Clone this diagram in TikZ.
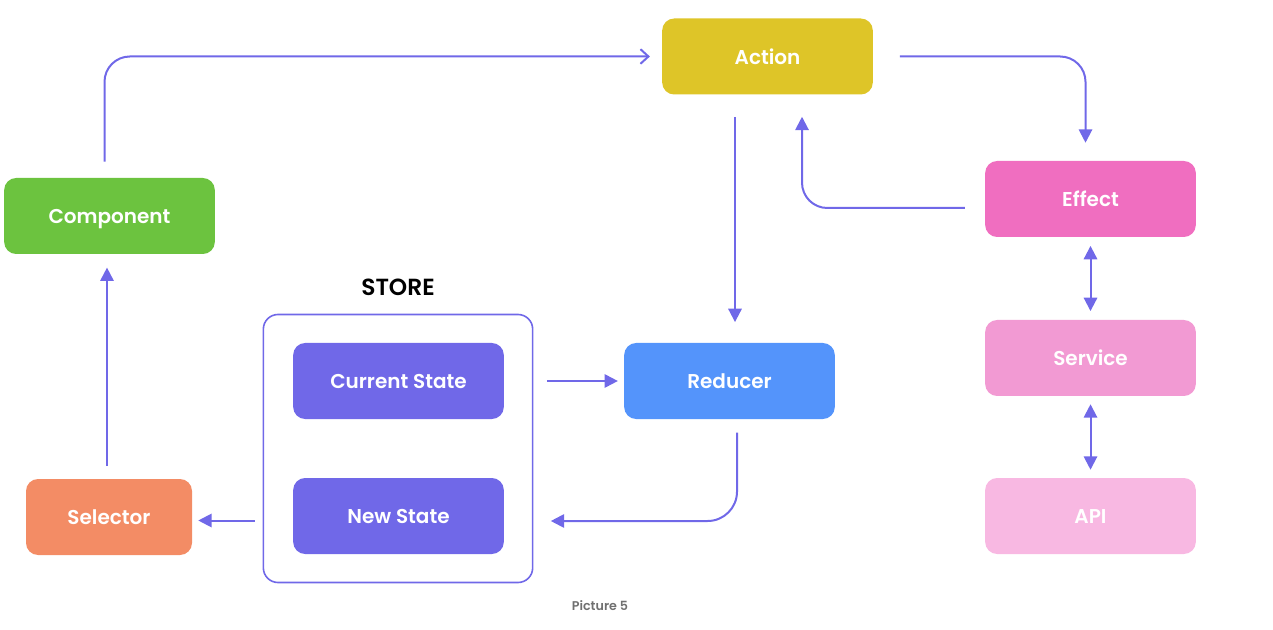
\documentclass[tikz,border=0pt]{standalone}
\usepackage{fontspec}
\setmainfont{Poppins}[BoldFont={Poppins SemiBold}]
\usetikzlibrary{arrows.meta,calc}
\definecolor{flow}{HTML}{7068E8}
\definecolor{cAction}{HTML}{DEC528}
\definecolor{cComponent}{HTML}{6CC33F}
\definecolor{cEffect}{HTML}{F06EC0}
\definecolor{cService}{HTML}{F29AD3}
\definecolor{cApi}{HTML}{F8B8E2}
\definecolor{cReducer}{HTML}{5494FB}
\definecolor{cState}{HTML}{7068E8}
\definecolor{cSelector}{HTML}{F38C65}
\definecolor{caption}{HTML}{707070}
\tikzset{
  block/.style={rounded corners=9pt, minimum width=158pt, minimum height=57pt,
    text=white, font=\fontsize{15}{18}\selectfont\bfseries, inner sep=0pt,
    text height=1.15em, text depth=0pt},
  link/.style={draw=flow, line width=1.5pt, -{Triangle[length=10pt,width=10pt]}},
  twoway/.style={draw=flow, line width=1.5pt,
    {Triangle[length=10pt,width=10pt]}-{Triangle[length=10pt,width=10pt]}},
}
\begin{document}
\begin{tikzpicture}[x=0.75pt,y=-0.75pt]
\useasboundingbox (0,0) rectangle (1273,630);

% store frame and title
\node[draw=flow, line width=1.2pt, rounded corners=11pt, minimum width=202pt,
  minimum height=201pt, inner sep=0pt] (store) at (398,448.5) {};
\node[font=\fontsize{17.5}{20}\selectfont\bfseries, text height=1.25em, text depth=0pt]
  (storetitle) at (398,287) {STORE};

% blocks
\node[block, fill=cAction] (action) at (767.5,56.5) {Action};
\node[block, fill=cComponent] (comp) at (109.5,216) {Component};
\node[block, fill=cEffect] (effect) at (1090.5,199) {Effect};
\node[block, fill=cService] (service) at (1090.5,358) {Service};
\node[block, fill=cApi] (api) at (1090.5,516) {API};
\node[block, fill=cReducer] (reducer) at (729.5,381) {Reducer};
\node[block, fill=cState] (cur) at (398.5,381) {Current State};
\node[block, fill=cState] (new) at (398.5,516) {New State};
\node[block, fill=cSelector, minimum width=124.5pt] (selector) at (109,517) {Selector};

% caption
\node[text=caption, font=\fontsize{9.5}{11}\selectfont\bfseries] (cap) at (600,605.5) {Picture 5};

% connectors
\draw[draw=flow, line width=1.5pt, rounded corners=19pt,
  -{Straight Barb[length=6pt,width=11pt]}, shorten <=12pt, shorten >=9pt]
  ($(comp.north)+(-5,0)$) |- (action.west);
\draw[link, rounded corners=19pt, shorten <=20pt, shorten >=13.5pt]
  (action.east) -| ($(effect.north)+(-5,0)$);
\draw[link, rounded corners=19pt, shorten <=15pt, shorten >=16.5pt]
  ($(effect.west)+(0,9)$) -| ($(action.south)+(34.5,0)$);
\draw[link, shorten <=16.5pt, shorten >=15.5pt]
  ($(action.south)+(-32.5,0)$) -- ($(reducer.north)+(5.5,0)$);
\draw[link, shorten <=32pt, shorten >=4.5pt] (cur.east) -- (reducer.west);
\draw[link, rounded corners=22pt, shorten <=10pt, shorten >=13pt]
  ($(reducer.south)+(7.5,0)$) |- ($(store.east)+(0,72.5)$);
\draw[link, shorten <=6pt, shorten >=4.5pt]
  ($(store.west)+(0,72)$) -- ($(selector.east)+(0,3.5)$);
\draw[link, shorten <=9.5pt, shorten >=10pt]
  ($(selector.north)+(-2,0)$) -- ($(comp.south)+(-2.5,0)$);
\draw[twoway, shorten <=6.5pt, shorten >=6.5pt] (effect.south) -- (service.north);
\draw[twoway, shorten <=6pt, shorten >=6pt] (service.south) -- (api.north);
\end{tikzpicture}
\end{document}
